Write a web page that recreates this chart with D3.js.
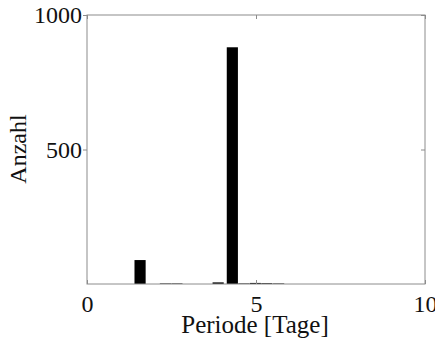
<!DOCTYPE html>
<html>
<head>
<meta charset="utf-8">
<script src="https://cdn.jsdelivr.net/npm/d3@7"></script>
<style>
  body { margin: 0; background: #fff; }
  svg { display: block; }
  svg text { font-family: "Liberation Serif", "Times New Roman", Times, serif; }
</style>
</head>
<body>
<div id="graph"></div>
<script>
const svgw = 435
const svgh = 341
const margin = {top: 15, right: 10, bottom: 57, left: 87}

// histogram bins (period in days) and counts
const periods = [1.57, 2.32, 2.66, 3.88, 4.30, 4.64, 4.98, 5.32, 5.67]
const counts = [89, 2, 2, 6, 880, 2, 4, 3, 2]
const xTicks = [0, 5, 10]
const yTicks = [500, 1000]
const binWidth = 0.33

const svg = d3.select('#graph')
    .append('svg')
    .attr('width', svgw)
    .attr('height', svgh)

const xScale = d3.scaleLinear()
    .domain([0, 10])
    .range([margin.left, svgw - margin.right])
const yScale = d3.scaleLinear()
    .domain([0, 1000])
    .range([svgh - margin.bottom, margin.top])

const x0 = xScale(0), x1 = xScale(10)
const y0 = yScale(0), y1 = yScale(1000)

// bars
svg.selectAll('rect.bar')
    .data(periods)
    .enter()
    .append('rect')
    .attr('class', 'bar')
    .attr('x', d => xScale(d - binWidth / 2))
    .attr('width', d => xScale(binWidth) - xScale(0))
    .attr('y', (d, i) => yScale(counts[i]))
    .attr('height', (d, i) => y0 - yScale(counts[i]))
    .attr('fill', '#000')

// box
svg.append('rect')
    .attr('x', x0)
    .attr('y', y1)
    .attr('width', x1 - x0)
    .attr('height', y0 - y1)
    .attr('fill', 'none')
    .attr('stroke', '#8c8c8c')
    .attr('stroke-width', 1)

const tickLen = 4
const fmt = d3.format('d')

svg.append('g')
    .attr('transform', `translate(0,${y0})`)
    .call(d3.axisBottom(xScale).tickValues(xTicks).tickFormat(fmt).tickSizeInner(-tickLen).tickSizeOuter(0).tickPadding(11))
svg.append('g')
    .attr('transform', `translate(0,${y1})`)
    .call(d3.axisTop(xScale).tickValues(xTicks).tickSizeInner(-tickLen).tickSizeOuter(0).tickFormat(''))
svg.append('g')
    .attr('transform', `translate(${x0},0)`)
    .call(d3.axisLeft(yScale).tickValues(yTicks).tickFormat(fmt).tickSizeInner(tickLen).tickSizeOuter(0).tickPadding(1))
svg.append('g')
    .attr('transform', `translate(${x1},0)`)
    .call(d3.axisRight(yScale).tickValues(yTicks).tickSizeInner(-tickLen).tickSizeOuter(0).tickFormat(''))

svg.selectAll('.domain').remove()
svg.selectAll('.tick line').attr('stroke', '#8c8c8c')
svg.selectAll('g').attr('font-family', null)
svg.selectAll('.tick text')
    .attr('font-size', 24)
    .attr('fill', '#111')

svg.append('text')
    .attr('x', (x0 + x1) / 2 - 1)
    .attr('y', 333)
    .attr('text-anchor', 'middle')
    .attr('font-size', 25)
    .attr('fill', '#111')
    .text('Periode [Tage]')

svg.append('text')
    .attr('transform', `translate(26,149) rotate(-90)`)
    .attr('text-anchor', 'middle')
    .attr('font-size', 24)
    .attr('fill', '#111')
    .text('Anzahl')
</script>
</body>
</html>
